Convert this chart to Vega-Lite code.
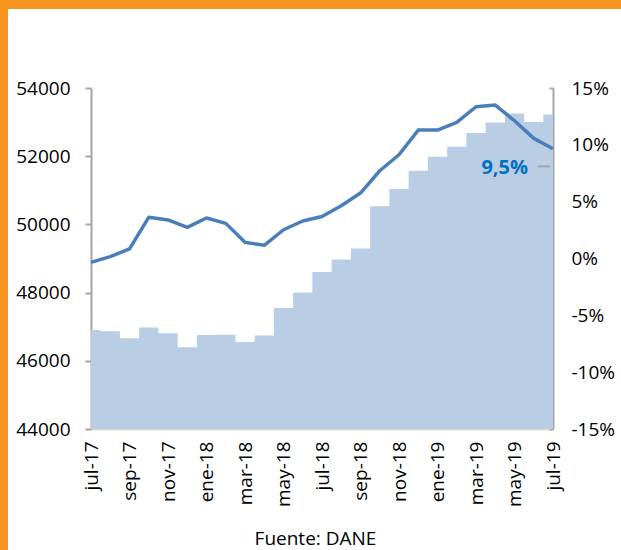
{
  "$schema": "https://vega.github.io/schema/vega-lite/v6.json",
  "background": "white",
  "padding": 0,
  "spacing": 0,
  "config": {
    "view": {"stroke": null},
    "font": "Open Sans",
    "concat": {"spacing": 0},
    "axis": {
      "grid": false,
      "labelFont": "Open Sans",
      "labelFontSize": 19,
      "labelColor": "#000000",
      "domainColor": "#A6A6A6",
      "tickColor": "#A6A6A6",
      "titleFont": "Open Sans"
    }
  },
  "hconcat": [
    {
      "width": 8,
      "height": 550,
      "view": {"fill": "#F7941D", "stroke": null},
      "data": {"values": []},
      "mark": "point"
    },
    {
      "spacing": 70,
      "vconcat": [
        {
          "width": 613,
          "height": 9,
          "view": {"fill": "#F7941D", "stroke": null},
          "data": {"values": []},
          "mark": "point"
        },
        {
          "spacing": 0,
          "hconcat": [
            {
              "width": 7,
              "height": 10,
              "data": {"values": []},
              "mark": "point"
            },
            {
              "width": 462,
              "height": 341,
              "data": {
                "values": [
                  {"mes": "jul-17", "empleo": 46900, "var": -0.34},
                  {"mes": "ago-17", "empleo": 46865, "var": 0.16},
                  {"mes": "sep-17", "empleo": 46660, "var": 0.84},
                  {"mes": "oct-17", "empleo": 46980, "var": 3.62},
                  {"mes": "nov-17", "empleo": 46805, "var": 3.39},
                  {"mes": "dic-17", "empleo": 46395, "var": 2.74},
                  {"mes": "ene-18", "empleo": 46755, "var": 3.56},
                  {"mes": "feb-18", "empleo": 46765, "var": 3.09},
                  {"mes": "mar-18", "empleo": 46550, "var": 1.42},
                  {"mes": "abr-18", "empleo": 46745, "var": 1.16},
                  {"mes": "may-18", "empleo": 47550, "var": 2.53},
                  {"mes": "jun-18", "empleo": 48000, "var": 3.30},
                  {"mes": "jul-18", "empleo": 48605, "var": 3.70},
                  {"mes": "ago-18", "empleo": 48970, "var": 4.64},
                  {"mes": "sep-18", "empleo": 49295, "var": 5.76},
                  {"mes": "oct-18", "empleo": 50530, "var": 7.72},
                  {"mes": "nov-18", "empleo": 51040, "var": 9.13},
                  {"mes": "dic-18", "empleo": 51575, "var": 11.30},
                  {"mes": "ene-19", "empleo": 51985, "var": 11.30},
                  {"mes": "feb-19", "empleo": 52280, "var": 11.98},
                  {"mes": "mar-19", "empleo": 52680, "var": 13.35},
                  {"mes": "abr-19", "empleo": 52985, "var": 13.50},
                  {"mes": "may-19", "empleo": 53255, "var": 12.12},
                  {"mes": "jun-19", "empleo": 53005, "var": 10.57},
                  {"mes": "jul-19", "empleo": 53225, "var": 9.65}
                ]
              },
              "encoding": {
                "x": {
                  "field": "mes",
                  "type": "ordinal",
                  "sort": null,
                  "scale": {
                    "type": "point",
                    "padding": 0,
                    "domain": ["jul-17", "ago-17", "sep-17", "oct-17", "nov-17", "dic-17", "ene-18", "feb-18", "mar-18", "abr-18", "may-18", "jun-18", "jul-18", "ago-18", "sep-18", "oct-18", "nov-18", "dic-18", "ene-19", "feb-19", "mar-19", "abr-19", "may-19", "jun-19", "jul-19"]
                  },
                  "axis": {
                    "values": ["jul-17", "sep-17", "nov-17", "ene-18", "mar-18", "may-18", "jul-18", "sep-18", "nov-18", "ene-19", "mar-19", "may-19", "jul-19"],
                    "labelAngle": -90,
                    "ticks": false,
                    "domainColor": "#D9D9D9",
                    "domainWidth": 2,
                    "labelPadding": 12,
                    "title": "Fuente: DANE",
                    "titleFontSize": 19,
                    "titleFontWeight": "normal",
                    "titleColor": "#000000",
                    "titlePadding": 23,
                    "titleX": 224,
                    "titleAlign": "center"
                  }
                }
              },
              "layer": [
                {
                  "mark": {"type": "area", "interpolate": "step", "color": "#B9CDE5"},
                  "encoding": {
                    "y": {
                      "field": "empleo",
                      "type": "quantitative",
                      "stack": null,
                      "scale": {"domain": [44000, 54000], "zero": false, "nice": false},
                      "axis": {
                        "orient": "left",
                        "values": [44000, 46000, 48000, 50000, 52000, 54000],
                        "format": "d",
                        "title": null,
                        "domainWidth": 2,
                        "tickSize": 6,
                        "tickWidth": 2,
                        "labelPadding": 15
                      }
                    },
                    "y2": {"datum": 44000}
                  }
                },
                {
                  "encoding": {
                    "y": {
                      "field": "var",
                      "type": "quantitative",
                      "scale": {"domain": [-15, 15], "nice": false},
                      "axis": {
                        "orient": "right",
                        "values": [-15, -10, -5, 0, 5, 10, 15],
                        "labelExpr": "datum.value + '%'",
                        "title": null,
                        "domainWidth": 2,
                        "tickSize": -4,
                        "tickWidth": 2,
                        "labelPadding": 22
                      }
                    }
                  },
                  "layer": [
                    {
                      "mark": {"type": "line", "color": "#4A7EBB", "strokeWidth": 3.5, "strokeJoin": "round"}
                    },
                    {
                      "data": {"values": [{"mes": "jun-19", "mes2": "jul-19", "var": 8.1}]},
                      "mark": {"type": "rule", "color": "#A6A6A6", "strokeWidth": 2, "xOffset": 4, "x2Offset": -3},
                      "encoding": {"x2": {"field": "mes2"}}
                    },
                    {
                      "data": {"values": [{"mes": "jul-19", "var": 8.0, "etiqueta": "9,5%"}]},
                      "mark": {"type": "text", "align": "right", "baseline": "middle", "dx": -25, "fontSize": 20, "fontWeight": "bold", "color": "#0070C0", "font": "Open Sans"},
                      "encoding": {"text": {"field": "etiqueta"}}
                    }
                  ]
                }
              ],
              "resolve": {"scale": {"y": "independent"}}
            }
          ]
        }
      ]
    }
  ]
}
